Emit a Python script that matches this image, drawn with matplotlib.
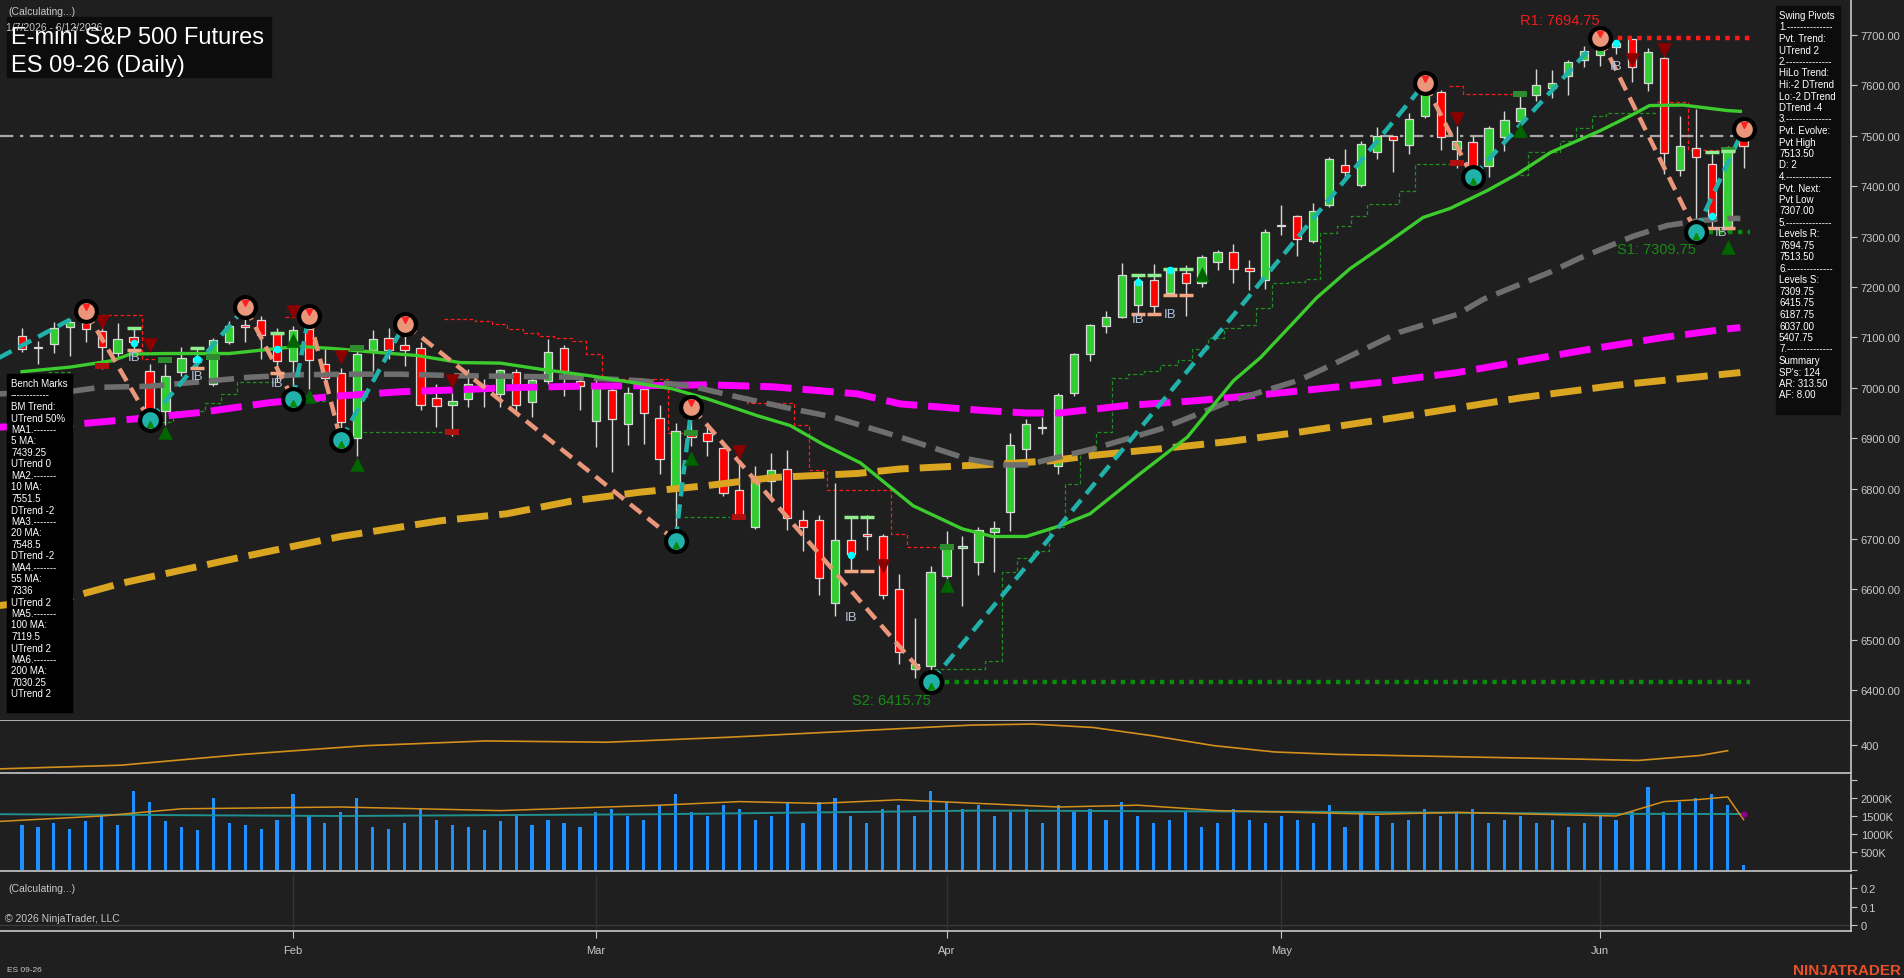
import matplotlib
matplotlib.use("Agg")
import matplotlib.pyplot as plt
from matplotlib.patches import Rectangle
import numpy as np

plt.rcParams['font.family'] = ['Liberation Sans', 'DejaVu Sans']

W, H = 1904, 979
BG = '#1f1f1f'
FG = '#c8c8c8'

# ---------------- data (bar index 0 = Jan 7 2026, 108 = Jun 12 2026) ----------------
opens = [7102, 7081, 7087, 7120, 7129, 7112, 7069, 7100, 7033, 6953, 7032, 7059, 7008, 7090, 7124, 7135, 7107,
         7054, 7117, 7047, 7029, 6900, 7074, 7098, 7085, 7078, 6979, 6966, 6978, 7006, 6988, 7031, 6971, 7013, 7078, 7013,
         6934, 6996, 6928, 6998, 6940, 6799, 6912, 6910, 6880, 6798, 6723, 6816, 6838, 6737, 6738, 6574, 6699, 6710, 6706, 6600, 6443, 6449,
         6626, 6682, 6654, 6713, 6753, 6879, 6920, 6844, 6990, 7068, 7122, 7141, 7165, 7214, 7189, 7227, 7207, 7249, 7269, 7237, 7214,
         7322, 7340, 7292, 7363, 7443, 7403, 7467, 7499, 7482, 7540, 7586, 7474, 7487, 7441, 7497, 7530, 7581, 7595, 7618, 7651,
         7660, 7676, 7693, 7604, 7654, 7432, 7476, 7444, 7320, 7500]
highs = [7119, 7092, 7130, 7137, 7152, 7130, 7129, 7119, 7047, 7047, 7080, 7078, 7099, 7133, 7160, 7143, 7118,
         7123, 7143, 7077, 7040, 7084, 7115, 7118, 7127, 7090, 7008, 6990, 7037, 7017, 7037, 7037, 7024, 7097, 7084, 7017,
         7021, 7001, 7001, 7008, 6966, 6930, 6962, 6924, 6882, 6849, 6845, 6871, 6877, 6758, 6748, 6811, 6744, 6748, 6710, 6631, 6543, 6646,
         6715, 6706, 6723, 6736, 6910, 6938, 6943, 6990, 7070, 7127, 7152, 7248, 7224, 7245, 7239, 7244, 7263, 7273, 7285, 7254, 7315,
         7363, 7343, 7367, 7457, 7474, 7490, 7517, 7500, 7545, 7604, 7590, 7519, 7500, 7519, 7550, 7580, 7633, 7631, 7651, 7679,
         7694.75, 7690, 7693, 7674, 7656, 7540, 7553, 7464, 7480, 7513.5]
lows = [7072, 7047, 7070, 7064, 7090, 7037, 7057, 7074, 6936, 6927, 7024, 7039, 7004, 7087, 7090, 7057, 7011,
        6980, 6998, 7004, 6896, 6865, 7034, 7057, 7044, 6955, 6922, 6905, 6961, 6962, 6961, 6951, 6942, 7008, 6984, 6955,
        6882, 6832, 6887, 6889, 6828, 6697, 6885, 6864, 6786, 6740, 6720, 6779, 6718, 6676, 6589, 6547, 6637, 6679, 6581, 6452, 6424, 6415.75,
        6618, 6568, 6629, 6635, 6715, 6855, 6908, 6829, 6983, 7054, 7109, 7139, 7146, 7146, 7184, 7143, 7199, 7234, 7208, 7195, 7196,
        7304, 7262, 7287, 7358, 7414, 7399, 7453, 7428, 7463, 7535, 7472, 7437, 7418, 7419, 7470, 7504, 7570, 7574, 7580, 7636,
        7639, 7662, 7606, 7588, 7424, 7420, 7309.75, 7315, 7309, 7437]
closes = [7076, 7079, 7118, 7130, 7117, 7080, 7097, 7090, 6955, 7023, 7059, 7052, 7095, 7122, 7120, 7105, 7054,
          7115, 7055, 7019, 6933, 7067, 7097, 7074, 7075, 6966, 6963, 6973, 7008, 6998, 7036, 6966, 7016, 7072, 7034, 7004,
          7001, 6938, 6990, 6950, 6859, 6914, 6902, 6894, 6791, 6748, 6818, 6836, 6741, 6723, 6622, 6699, 6670, 6706, 6589, 6475, 6452, 6634,
          6687, 6686, 6717, 6721, 6887, 6928, 6922, 6986, 7068, 7125, 7140, 7224, 7211, 7163, 7236, 7207, 7259, 7269, 7236, 7231, 7309,
          7321, 7295, 7350, 7453, 7428, 7483, 7500, 7491, 7533, 7583, 7497, 7489, 7441, 7515, 7531, 7555, 7601, 7604, 7646, 7669,
          7673, 7685, 7636, 7666, 7466, 7479, 7457, 7341, 7470, 7480]
volume_k = [1250, 1200, 1300, 1150, 1350, 1500, 1250, 2200, 1900, 1350, 1200, 1100, 2000, 1300, 1250, 1150, 1400,
            2100, 1500, 1300, 1600, 2000, 1200, 1150, 1300, 1700, 1400, 1250, 1200, 1100, 1350, 1500, 1250, 1400, 1300, 1200,
            1600, 1700, 1500, 1400, 1800, 2100, 1600, 1500, 1800, 1700, 1400, 1500, 1900, 1300, 1900, 2000, 1500, 1300, 1700, 1800, 1500, 2200,
            1900, 1700, 1800, 1500, 1600, 1700, 1300, 1800, 1600, 1700, 1400, 1900, 1500, 1300, 1400, 1600, 1200, 1300, 1700, 1400, 1300,
            1500, 1400, 1300, 1800, 1200, 1600, 1500, 1300, 1400, 1700, 1500, 1600, 1700, 1300, 1400, 1500, 1300, 1400, 1200, 1300,
            1500, 1400, 1600, 2300, 1600, 1900, 2000, 2100, 1800, 150]

month_idx = [17, 36, 58, 79, 99]
month_lbl = ['Feb', 'Mar', 'Apr', 'May', 'Jun']

# moving averages (bar index, price)
ma20_x = [0, 3, 5.7, 6.8, 9.1, 13, 16, 17.4, 19.5, 21.6, 24.8, 27.5, 30, 32.5, 35.6, 38.8, 40.8, 43, 46.1, 48.2, 50.3, 52.6,
          55.9, 59, 60.9, 63, 65.1, 67, 70, 73.1, 76, 77.7, 80.2, 81.2, 83.3, 85.4, 87.9, 89.6, 91.9, 93.8, 95.9, 99,
          101.1, 102.1, 104.2, 107, 107.8]
ma20_y = [7032, 7041, 7054, 7067, 7068, 7068, 7078, 7082, 7078, 7072, 7064, 7050, 7049, 7037, 7024, 7008, 6998, 6978, 6945, 6925, 6887, 6851,
          6766, 6720, 6705, 6705, 6726, 6750, 6826, 6902, 7014, 7060, 7144, 7178, 7236, 7282, 7338, 7356, 7391, 7424, 7467, 7510,
          7543, 7560, 7561, 7550, 7548.5]
ma55_x = [-1.4, 3.1, 4.9, 8, 11.2, 14.3, 17.4, 20.6, 23.7, 27.3, 30.4, 34.6, 38.8, 41.9, 45, 48.2, 50.9, 55.1, 59.3, 61.4, 63,
          67.2, 71.4, 75.6, 80.2, 82.4, 86.4, 90, 91.7, 95.9, 97.7, 101.1, 103.2, 105.3, 107, 107.8]
ma55_y = [6988, 6993, 7001, 7003, 7012, 7021, 7026, 7027, 7027, 7024, 7023, 7021, 7014, 7004, 6981, 6959, 6942, 6902, 6859, 6847, 6847,
          6879, 6918, 6971, 7016, 7049, 7110, 7145, 7176, 7230, 7257, 7301, 7322, 7332, 7336, 7336]
ma100_x = [-1.4, 3.1, 7, 11.2, 15.4, 19.5, 23.7, 27.3, 30.4, 34.6, 38.8, 43, 47.1, 52.4, 55.1, 60.3, 63, 65.1, 69.3, 73.5, 77.7,
           80.2, 85, 90, 95, 99, 103, 107, 107.8]
ma100_y = [6922, 6927, 6938, 6951, 6970, 6983, 6992, 6996, 7000, 7003, 7004, 7006, 7002, 6988, 6968, 6955, 6950, 6950, 6965, 6974, 6986,
           6994, 7010, 7030, 7058, 7080, 7100, 7117, 7119.5]
ma200_x = [-1.4, 3.1, 6.2, 13.9, 20, 26.2, 30.4, 34.6, 38.8, 43, 47.1, 52.4, 55.1, 61.4, 64.5, 67.2, 71.4, 75.6, 79.7, 87, 94, 100, 107.8]
ma200_y = [6568, 6585, 6612, 6665, 6705, 6736, 6750, 6776, 6793, 6806, 6822, 6830, 6839, 6849, 6855, 6866, 6879, 6893, 6910, 6945, 6980,
           7005, 7030.25]

# swing pivots (alternating low / high), first one sits left of the visible range
piv_idx = [-3, 4, 8, 14, 17, 18, 20, 24, 41, 42, 57, 88, 91, 99, 105, 108]
piv_px = [7033, 7152, 6936, 7160, 6978, 7143, 6896, 7127, 6697, 6962, 6415.75, 7604, 7418, 7694.75, 7309.75, 7513.5]

# trailing resistance / support steps (x breakpoints, level)
res_steps = [
    ([4.6, 7.5, 8.5], [7145, 7057, 7057]),
    ([16.5, 17.3], [7140, 7140]),
    ([19.5, 20.4], [7078, 7078]),
    ([26.5, 28.4, 29.5, 30.4, 31.4, 32.4, 33.4, 34.5, 35.4, 36.4, 40.5, 41.7],
     [7136, 7132, 7127, 7117, 7108, 7102, 7099, 7092, 7067, 7017, 6910, 6910]),
    ([44.6, 45.5, 48.4, 49.4, 50.5, 54.5, 55.5, 57.6], [6983, 6969, 6926, 6837, 6797, 6710, 6684, 6684]),
    ([89.5, 90.4, 93.5], [7598, 7583, 7583]),
    ([102.6, 104.5, 106.5], [7568, 7472, 7472]),
]
sup_steps = [
    ([1.6, 3.2], [7031, 7031]),
    ([8.7, 9.5, 11.5, 12.5, 13.5, 15.8], [6933, 6953, 6970, 6988, 7011, 7011]),
    ([18.0, 19.2], [6973, 6973]),
    ([21.4, 26.7], [6912, 6912]),
    ([41.5, 44.4], [6743, 6743]),
    ([57.2, 60.4, 61.5, 62.4, 63.4, 64.4, 65.4, 66.4, 67.4, 68.4, 69.4, 70.4, 71.4, 72.5, 73.4, 74.4, 75.4, 76.4, 77.4,
      78.4, 79.4, 80.5, 81.4, 82.5, 83.4, 84.4, 86.4, 87.4, 89.5],
     [6443, 6457, 6634, 6662, 6677, 6723, 6809, 6875, 6912, 7019, 7027, 7034, 7046, 7056, 7076, 7098, 7118, 7125, 7158,
      7207, 7209, 7216, 7307, 7322, 7340, 7364, 7390, 7445, 7445]),
    ([94.0, 94.5, 96.5, 97.5, 98.5, 99.4, 102.6], [7422, 7468, 7490, 7515, 7540, 7545, 7545]),
]

# signal markers
dn_tri_idx = [5, 8, 17, 20, 27, 45, 54, 90, 101, 103]
dn_tri_px = [7131, 7085, 7150, 7061, 7013, 6873, 6647, 7533, 7650, 7670]
up_tri_idx = [9, 17, 18, 21, 42, 58, 74, 94, 107]
up_tri_px = [6912, 7095, 6984, 6849, 6861, 6609, 7226, 7512, 7279]
rsq_idx = [5, 27, 45, 90]
rsq_px = [7044, 6912, 6744, 7446]
gsq_idx = [9, 12, 18, 21, 42, 58, 94, 107]
gsq_px = [7055, 7061, 7140, 7079, 6910, 6684, 7583, 7472]
cyan_idx = [7, 11, 16, 52, 70, 72, 100, 106]
cyan_px = [7089, 7057, 7077, 6668, 7210, 7234, 7685, 7341]
ib_idx = [7, 11, 16, 52, 53, 70, 71, 72, 73, 106, 107]
ib_top = [7119, 7078, 7109, 6744, 6744, 7224, 7224, 7236, 7236, 7468, 7470]
ib_bot = [7074, 7039, 7030, 6637, 6637, 7146, 7146, 7184, 7184, 7318, 7318]
ib_txt_idx = [7, 11, 16, 52, 70, 72, 100, 106.6]
ib_txt_px = [7061, 7023, 7009, 6545, 7137, 7147, 7638, 7309]

r1, s1, s2 = 7694.75, 7309.75, 6415.75

# lower panels
atr_x = [-1.4, 6.2, 13.9, 21.5, 29.1, 36.7, 44.3, 51.9, 59.5, 63.4, 67.2, 71.0, 74.8, 78.6, 82.4, 90.0, 97.7, 101.4, 105.3, 107.0]
atr_y = [289, 306, 356, 396, 418, 412, 435, 463, 491, 496, 480, 441, 396, 367, 356, 345, 334, 328, 351, 373]
volavg_x = [-1.4, 5, 10, 20, 30, 40, 45, 50, 55, 60, 65, 70, 75, 80, 85, 90, 95, 100, 103, 105, 107, 108]
volavg_y = [1350, 1500, 1700, 1750, 1650, 1800, 1900, 1850, 1950, 1850, 1750, 1800, 1650, 1600, 1550, 1600, 1550, 1500, 1900, 1950, 2030, 1400]
volbase_x = [-1.4, 20, 40, 60, 80, 100, 108]
volbase_y = [1550, 1500, 1550, 1650, 1620, 1560, 1555]

swing_lines = ["Swing Pivots", "1.--------------", "Pvt. Trend:", "UTrend 2", "2.--------------", "HiLo Trend:",
               "Hi:-2 DTrend", "Lo:-2 DTrend", "DTrend -4", "3.--------------", "Pvt. Evolve:", "Pvt High", "7513.50",
               "D: 2", "4.--------------", "Pvt. Next:", "Pvt Low", "7307.00", "5.--------------", "Levels R:",
               "7694.75", "7513.50", "6.--------------", "Levels S:", "7309.75", "6415.75", "6187.75", "6037.00",
               "5407.75", "7.--------------", "Summary", "SP's: 124", "AR: 313.50", "AF: 8.00"]
bench_lines = ["Bench Marks", "------------", "BM Trend:", "UTrend 50%", "MA1.-------", "5 MA:", "7439.25", "UTrend 0",
               "MA2.-------", "10 MA:", "7551.5", "DTrend -2", "MA3.-------", "20 MA:", "7548.5", "DTrend -2",
               "MA4.-------", "55 MA:", "7336", "UTrend 2", "MA5.-------", "100 MA:", "7119.5", "UTrend 2",
               "MA6.-------", "200 MA:", "7030.25", "UTrend 2"]

# ---------------- figure ----------------
fig = plt.figure(figsize=(W / 100, H / 100), dpi=100, facecolor=BG)


def panel(top, bottom):
    a = fig.add_axes([0, 1 - bottom / H, 1851 / W, (bottom - top) / H])
    a.set_facecolor(BG)
    for s in ['top', 'left']:
        a.spines[s].set_visible(False)
    for s in ['bottom', 'right']:
        a.spines[s].set_color(FG)
        a.spines[s].set_linewidth(1.2)
    a.yaxis.tick_right()
    a.tick_params(axis='y', colors=FG, labelcolor=FG, labelsize=8, length=4, pad=3)
    a.tick_params(axis='x', bottom=False, labelbottom=False)
    a.set_xlim(-1.38, 114.74)
    return a


ax = panel(0, 722)
ax2 = panel(722, 774)
ax3 = panel(776, 872)
ax4 = panel(876, 932)

ax.set_ylim(6338.9, 7771.4)
ax.set_yticks(np.arange(6400, 7701, 100))
ax.set_yticklabels(['%.2f' % v for v in np.arange(6400, 7701, 100)])

x = np.arange(len(closes))
o = np.array(opens, float)
c = np.array(closes, float)
hi = np.array(highs, float)
lo = np.array(lows, float)
up = c >= o

# trailing steps
for xs, ys in res_steps:
    ax.plot(xs, ys, drawstyle='steps-post', color='#ff1a1a', lw=0.9, ls=(0, (3, 2)), zorder=1)
for xs, ys in sup_steps:
    ax.plot(xs, ys, drawstyle='steps-post', color='#1f8f1f', lw=0.9, ls=(0, (3, 2)), zorder=1)

# 7500 reference line
ax.axhline(7500, xmin=0, xmax=(108.3 + 1.38) / 116.12, color='#a8a8a8', lw=1.6, ls=(0, (6, 3, 1.5, 3)), zorder=1)

# candles
ax.vlines(x, lo, hi, color='#d8d8d8', lw=1.0, zorder=2)
body = np.maximum(np.abs(c - o), 2.5)
ax.bar(x[up], body[up], bottom=np.minimum(o, c)[up], width=0.52, color='#32cd32', edgecolor='#d8d8d8', lw=0.9, zorder=3)
ax.bar(x[~up], body[~up], bottom=np.minimum(o, c)[~up], width=0.52, color='#ff0000', edgecolor='#d8d8d8', lw=0.9, zorder=3)

# moving averages
ax.plot(ma200_x, ma200_y, color='#daa520', lw=5, dashes=(4.5, 1.6), zorder=4)
ax.plot(ma100_x, ma100_y, color='#ff00ff', lw=5, dashes=(4.5, 1.6), zorder=4)
ax.plot(ma55_x, ma55_y, color='#6e6e6e', lw=4, dashes=(4.5, 1.8), zorder=4)
ax.plot(ma20_x, ma20_y, color='#3ccc2e', lw=2.4, zorder=4)

# swing lines
for k in range(len(piv_idx) - 1):
    col = '#20b2aa' if k % 2 == 0 else '#e9967a'
    ax.plot(piv_idx[k:k + 2], piv_px[k:k + 2], color=col, lw=3.2, dashes=(3.2, 1.8), zorder=5)

# S/R dotted levels
ax.hlines(r1, 99.5, 108.4, color='#ff1a1a', lw=3.2, ls=(0, (1, 1.2)), zorder=5)
ax.hlines(s2, 57.3, 108.4, color='#0c8c0c', lw=3.2, ls=(0, (1, 1.2)), zorder=5)
ax.hlines(s1, 104.6, 108.4, color='#0c8c0c', lw=3.2, ls=(0, (1, 1.2)), zorder=5)
ax.text(99, r1 + 22, 'R1: %.2f' % r1, color='#ee1c1c', fontsize=10.5, ha='right', va='bottom', zorder=6)
ax.text(105, s1 - 20, 'S1: %.2f' % s1, color='#178a17', fontsize=10.5, ha='right', va='top', zorder=6)
ax.text(57, s2 - 22, 'S2: %.2f' % s2, color='#178a17', fontsize=10.5, ha='right', va='top', zorder=6)

# markers
ax.scatter(dn_tri_idx, dn_tri_px, marker='v', s=110, color='#8b0000', zorder=6, linewidths=0)
ax.scatter(up_tri_idx, up_tri_px, marker='^', s=110, color='#006400', zorder=6, linewidths=0)
rect = [(-1, -0.45), (1, -0.45), (1, 0.45), (-1, 0.45)]
ax.scatter(rsq_idx, rsq_px, marker=rect, s=90, color='#b01010', zorder=6, linewidths=0)
ax.scatter(gsq_idx, gsq_px, marker=rect, s=90, color='#2e8b2e', zorder=6, linewidths=0)
ax.scatter(ib_idx, ib_top, marker='_', s=90, color='#90ee90', linewidths=2.5, zorder=6)
ax.scatter(ib_idx, ib_bot, marker='_', s=90, color='#f4a582', linewidths=2.5, zorder=6)
ax.scatter(cyan_idx, cyan_px, marker='o', s=30, color='#00ffff', zorder=7, linewidths=0)
for xi, yi in zip(ib_txt_idx, ib_txt_px):
    ax.text(xi, yi, 'IB', color='#b4c4dc', fontsize=9.5, ha='center', va='center', zorder=6)

# pivot circles
for k in range(1, len(piv_idx)):
    is_high = k % 2 == 1
    face = '#e9967a' if is_high else '#20b2aa'
    ax.plot(piv_idx[k], piv_px[k], 'o', ms=15, mfc=face, mec='black', mew=3, zorder=8)
    if is_high:
        ax.plot(piv_idx[k], piv_px[k] + 8, 'v', ms=5, color='#ff2020', zorder=9)
    else:
        ax.plot(piv_idx[k], piv_px[k] - 8, '^', ms=5, color='#0a8a0a', zorder=9)

# ---- range panel ----
ax2.set_ylim(270, 510)
ax2.set_yticks([400])
ax2.set_yticklabels(['400'])
ax2.plot(atr_x, atr_y, color='#d4901c', lw=1.2)

# ---- volume panel ----
ax3.set_ylim(-28, 2639)
ax3.set_yticks([0, 500, 1000, 1500, 2000, 2500])
ax3.set_yticklabels(['', '500K', '1000K', '1500K', '2000K', ''])
ax3.bar(x, volume_k, width=0.2, color='#1e90ff', zorder=2)
ax3.plot(volbase_x, volbase_y, color='#1f8f8f', lw=1.4, zorder=3)
ax3.plot(volavg_x, volavg_y, color='#d4901c', lw=1.1, zorder=4)
ax3.plot([108], [1555], 'o', ms=3.5, color='#8b008b', zorder=5)

# ---- empty panel ----
ax4.set_ylim(-0.032, 0.27)
ax4.set_yticks([0, 0.1, 0.2])
ax4.set_yticklabels(['0', '0.1', '0.2'])
ax4.axhline(0, color='#3a3a3a', lw=1)
for m in month_idx:
    ax4.axvline(m, color='#333333', lw=1)
ax4.set_xticks(month_idx)
ax4.set_xticklabels(month_lbl)
ax4.tick_params(axis='x', bottom=True, labelbottom=True, colors=FG, labelcolor=FG, labelsize=8, length=5, pad=5)


# ---------------- overlay texts ----------------
def ftext(px, py, s, **kw):
    fig.text(px / W, 1 - py / H, s, **kw)


def frect(x0, y0, x1, y1, color):
    fig.patches.append(Rectangle((x0 / W, 1 - y1 / H), (x1 - x0) / W, (y1 - y0) / H,
                                 transform=fig.transFigure, color=color, zorder=10))


frect(7, 18, 271, 78, '#0c0c0c')
ftext(8, 15, '(Calculating...)', color=FG, fontsize=7.5, va='baseline', zorder=11)
ftext(6, 31, '1/7/2026 - 6/12/2026', color=FG, fontsize=7.5, va='baseline', zorder=12)
ftext(11, 44, 'E-mini S&P 500 Futures', color='white', fontsize=17, va='baseline', zorder=11)
ftext(11, 72, 'ES 09-26 (Daily)', color='white', fontsize=17, va='baseline', zorder=11)

frect(1776, 7, 1840, 415, '#0c0c0c')
for k, s in enumerate(swing_lines):
    ftext(1779, 16 + k * 11.5, s, color='white', fontsize=7, va='center', zorder=11)

frect(7, 375, 72, 713, '#000000')
for k, s in enumerate(bench_lines):
    ftext(11, 384 + k * 11.5, s, color='white', fontsize=7, va='center', zorder=11)

ftext(8, 892, '(Calculating...)', color=FG, fontsize=7.5, va='baseline', zorder=11)
ftext(5, 922, '\u00a9 2026 NinjaTrader, LLC', color=FG, fontsize=7.5, va='baseline', zorder=11)
ftext(7, 972, 'ES 09-26', color=FG, fontsize=6, va='baseline', zorder=11)
ftext(1901, 975, 'NINJATRADER', color='#e8502a', fontsize=11, fontweight='bold', ha='right', va='baseline', zorder=11)

fig.savefig('out.png', dpi=100, facecolor=BG)
